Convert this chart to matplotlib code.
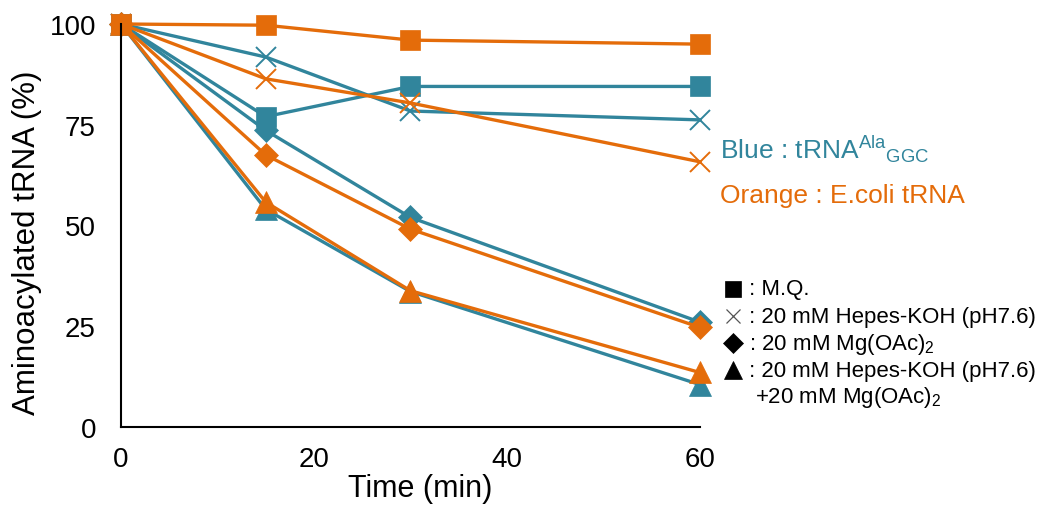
import matplotlib
matplotlib.use("Agg")
import matplotlib.pyplot as plt

plt.rcParams['font.family'] = ['Liberation Sans', 'DejaVu Sans']
plt.rcParams['mathtext.fontset'] = 'custom'
plt.rcParams['mathtext.rm'] = 'Liberation Sans'
plt.rcParams['mathtext.it'] = 'Liberation Sans'

time_min = [0, 15, 30, 60]

# tRNA-Ala(GGC)
blue_mq = [100, 77, 84.5, 84.5]
blue_hepes = [100, 91.8, 78.4, 76.2]
blue_mg = [100, 73.6, 52, 26]
blue_hepes_mg = [100, 54, 33.6, 10.5]

# E. coli tRNA
orange_mq = [100, 99.7, 96, 95]
orange_hepes = [100, 86.4, 80.4, 65.8]
orange_mg = [100, 67.5, 49.1, 24.7]
orange_hepes_mg = [100, 55.8, 33.8, 13.5]

xticks = [0, 20, 40, 60]
yticks = [0, 25, 50, 75, 100]

BLUE = '#31859C'
ORANGE = '#E46C0A'

fig = plt.figure(figsize=(10.43, 5.10), dpi=100)
ax = fig.add_axes([0.116, 0.161, 0.555, 0.790])

series = [
    (blue_mq, BLUE, 's', 15),
    (blue_hepes, BLUE, 'x', 14),
    (blue_mg, BLUE, 'D', 12),
    (blue_hepes_mg, BLUE, '^', 16),
    (orange_mq, ORANGE, 's', 15),
    (orange_hepes, ORANGE, 'x', 14),
    (orange_mg, ORANGE, 'D', 12),
    (orange_hepes_mg, ORANGE, '^', 16),
]
for vals, col, mk, ms in series:
    ax.plot(time_min, vals, color=col, lw=2.4, marker=mk, markersize=ms,
            markeredgewidth=1.4 if mk == 'x' else 0.5, markeredgecolor=col,
            markerfacecolor=col, clip_on=False)

ax.set_xlim(0, 60)
ax.set_ylim(0, 100)
ax.set_xticks(xticks)
ax.set_yticks(yticks)
ax.tick_params(length=0, labelsize=20, pad=14)
ax.tick_params(axis='y', pad=18)
for side in ('top', 'right'):
    ax.spines[side].set_visible(False)
for side in ('left', 'bottom'):
    ax.spines[side].set_linewidth(1.5)
ax.set_xlabel('Time (min)', fontsize=22)
ax.xaxis.set_label_coords(0.517, -0.115)
ax.set_ylabel('Aminoacylated tRNA (%)', fontsize=22.5)
ax.yaxis.set_label_coords(-0.136, 0.46)

fig.text(0.690, 0.708, r'Blue : tRNA$^{\mathregular{Ala}}$$_{\mathregular{GGC}}$',
         color=BLUE, fontsize=19, va='center')
fig.text(0.690, 0.615, 'Orange : E.coli tRNA', color=ORANGE, fontsize=19, va='center')

# marker key
key_rows = [
    ('s', ' : M.Q.', 0.432),
    ('x', ' : 20 mM Hepes-KOH (pH7.6)', 0.378),
    ('D', r' : 20 mM Mg(OAc)$_2$', 0.325),
    ('^', ' : 20 mM Hepes-KOH (pH7.6)', 0.272),
]
key_size = {'s': 12, 'x': 10, 'D': 10, '^': 13}
for mk, label, y in key_rows:
    fig.lines.append(plt.Line2D([0.703], [y], transform=fig.transFigure,
                                marker=mk, markersize=key_size[mk],
                                color='#555555' if mk == 'x' else 'black',
                                markeredgewidth=0.9 if mk == 'x' else 0.5,
                                linestyle='none'))
    fig.text(0.712, y, label, fontsize=16, va='center')
fig.text(0.724, 0.220, r'+20 mM Mg(OAc)$_2$', fontsize=16, va='center')

fig.savefig('out.png', dpi=100)
